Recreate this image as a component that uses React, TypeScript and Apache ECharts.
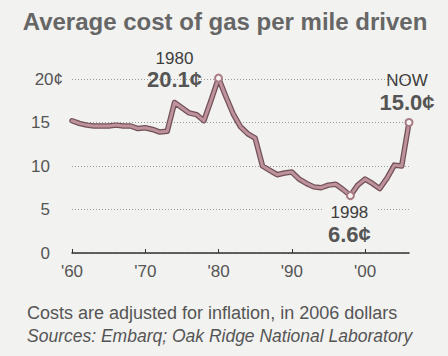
import React, { useEffect, useRef } from "react";
import * as echarts from "echarts";

const years = [
  1960, 1961, 1962, 1963, 1964, 1965, 1966, 1967, 1968, 1969,
  1970, 1971, 1972, 1973, 1974, 1975, 1976, 1977, 1978, 1979,
  1980, 1981, 1982, 1983, 1984, 1985, 1986, 1987, 1988, 1989,
  1990, 1991, 1992, 1993, 1994, 1995, 1996, 1997, 1998, 1999,
  2000, 2001, 2002, 2003, 2004, 2005, 2006,
];
const costCents = [
  15.2, 14.9, 14.7, 14.6, 14.6, 14.6, 14.7, 14.6, 14.6, 14.3,
  14.4, 14.2, 13.9, 14.0, 17.3, 16.7, 16.1, 15.9, 15.2, 17.6,
  20.1, 18.0, 16.0, 14.5, 13.7, 13.2, 10.0, 9.5, 9.0, 9.2,
  9.3, 8.5, 8.0, 7.6, 7.5, 7.8, 7.9, 7.3, 6.6, 7.8,
  8.5, 8.0, 7.4, 8.6, 10.1, 10.0, 15.0,
];
const yTicks = [0, 5, 10, 15, 20];
const xTickLabels = ["'60", "'70", "'80", "'90", "'00"];
const highlightYears = [1980, 1998, 2006];
const highlightTitles = ["1980", "1998", "NOW"];

const title = "Average cost of gas per mile driven";
const note = "Costs are adjusted for inflation, in 2006 dollars";
const sources = "Sources: Embarq; Oak Ridge National Laboratory";

const FONT = "Liberation Sans";

export default function App() {
  const ref = useRef<HTMLDivElement>(null);

  useEffect(() => {
    if (!ref.current) return;
    const chart = echarts.init(ref.current, null, { renderer: "svg" });
    const seriesData = years.map((y, i) => [y, costCents[i]]);
    const labelOffsets: Record<number, number[]> = {
      1980: [-44, -9],
      1998: [-1, 28],
      2006: [-2, -31],
    };
    const highlightData = highlightYears.map((y, k) => {
      const v = costCents[years.indexOf(y)];
      return {
        value: [y, v],
        label: {
          show: true,
          position: "inside",
          offset: labelOffsets[y],
          align: "center",
          verticalAlign: "middle",
          formatter: `{a|${highlightTitles[k]}}\n{b|${v.toFixed(1)}¢}`,
          backgroundColor: y === 1998 ? "#f2f2f0" : "transparent",
          padding: [0, 6],
          rich: {
            a: {
              fontSize: 17,
              color: "#3d3d3d",
              fontFamily: FONT,
              lineHeight: 21,
              align: "center",
            },
            b: {
              fontSize: 22,
              fontWeight: "bold",
              color: "#555555",
              fontFamily: FONT,
              lineHeight: 22,
              align: "center",
            },
          },
        },
      };
    });

    chart.setOption({
      animation: false,
      backgroundColor: "#f2f2f0",
      title: [
        {
          text: title,
          left: 225,
          textAlign: "center",
          top: 9,
          padding: 0,
          textStyle: {
            fontSize: 24,
            fontWeight: "bold",
            color: "#666666",
            fontFamily: FONT,
          },
        },
        {
          text: note,
          left: 27,
          top: 304,
          padding: 0,
          textStyle: {
            fontSize: 18,
            fontWeight: "normal",
            color: "#555555",
            fontFamily: FONT,
          },
        },
        {
          text: sources,
          left: 27,
          top: 327,
          padding: 0,
          textStyle: {
            fontSize: 17.5,
            fontWeight: "normal",
            fontStyle: "italic",
            color: "#555555",
            fontFamily: FONT,
          },
        },
      ],
      grid: { left: 72, top: 79, width: 337, height: 174 },
      xAxis: {
        type: "value",
        min: 1960,
        max: 2006,
        interval: 10,
        splitLine: { show: false },
        axisLine: { show: true, lineStyle: { color: "#333333", width: 1.5 } },
        axisTick: { show: true, inside: true, length: 4, lineStyle: { color: "#333333", width: 1 } },
        axisLabel: {
          margin: 10,
          fontSize: 17,
          color: "#555555",
          fontFamily: FONT,
          showMaxLabel: false,
          formatter: (v: number) => xTickLabels[(v - 1960) / 10] ?? "",
        },
      },
      yAxis: {
        type: "value",
        min: yTicks[0],
        max: yTicks[yTicks.length - 1],
        interval: 5,
        axisLine: { show: false },
        axisTick: { show: false },
        splitLine: {
          show: true,
          lineStyle: { color: "#9a9a9a", type: [1, 2], width: 1 },
        },
        axisLabel: {
          margin: 9,
          fontSize: 17,
          color: "#555555",
          fontFamily: FONT,
          formatter: (v: number) => (v === 20 ? `${v}{c|¢}` : `${v}{s| }`),
          rich: {
            c: { fontSize: 17, color: "#555555", fontFamily: FONT },
            s: { width: 13, fontSize: 17 },
          },
        },
      },
      series: [
        {
          type: "line",
          data: seriesData,
          symbol: "none",
          clip: false,
          lineStyle: { color: "#72505a", width: 5.5, join: "round", cap: "round" },
          z: 2,
        },
        {
          type: "line",
          data: seriesData,
          symbol: "none",
          clip: false,
          lineStyle: { color: "#bd929a", width: 3, join: "round", cap: "round" },
          z: 3,
        },
        {
          type: "scatter",
          data: highlightData,
          clip: false,
          symbol: "circle",
          symbolSize: 7,
          itemStyle: { color: "#f7f3f3", borderColor: "#a87c85", borderWidth: 2, opacity: 1 },
          z: 4,
        },
      ],
    });
    return () => chart.dispose();
  }, []);

  return (
    <div
      ref={ref}
      style={{ position: "absolute", left: 0, top: 0, width: 448, height: 356 }}
    />
  );
}
